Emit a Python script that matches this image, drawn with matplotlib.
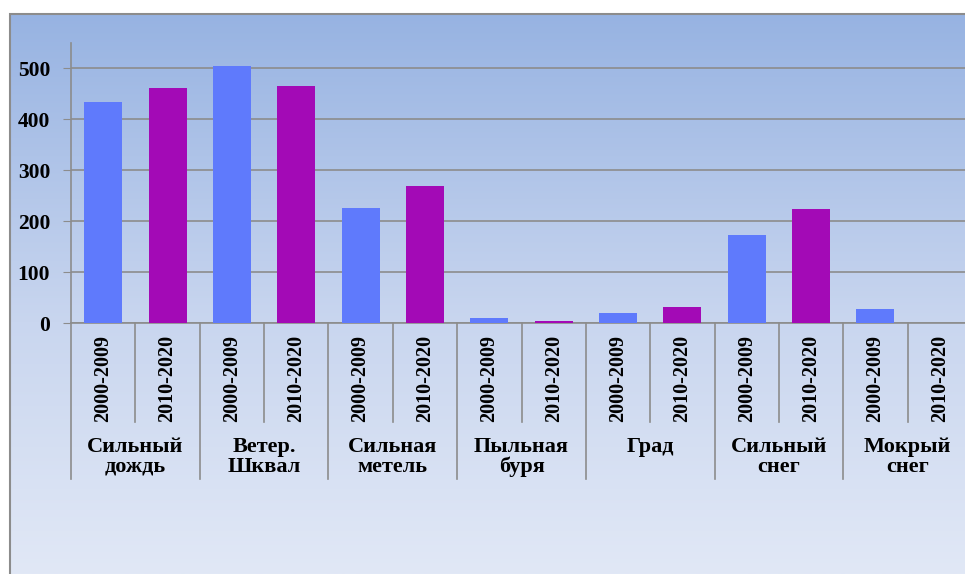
import matplotlib.pyplot as plt
import numpy as np
from matplotlib.colors import LinearSegmentedColormap
from matplotlib.patches import Rectangle

# данные
categories = ["Сильный\nдождь", "Ветер.\nШквал", "Сильная\nметель", "Пыльная\nбуря",
              "Град", "Сильный\nснег", "Мокрый\nснег"]
periods = ["2000-2009", "2010-2020"]
values_2000 = [435, 505, 227, 10, 20, 174, 28]
values_2010 = [462, 465, 269, 4, 32, 225, 0]
yticks = [0, 100, 200, 300, 400, 500]

plt.rcParams['font.family'] = ['Liberation Serif', 'DejaVu Serif']
plt.rcParams['font.weight'] = 'bold'

W, H = 965, 574
fig = plt.figure(figsize=(W / 100, H / 100), dpi=100)

# фон с градиентом
bg = fig.add_axes([10 / W, 0, 1 - 10 / W, 1 - 14 / H])
cmap = LinearSegmentedColormap.from_list(
    "bg", [(0, "#E1E8F6"), (0.45, "#C9D6EF"), (1, "#97B3E2")])
grad = np.linspace(0, 1, 256).reshape(-1, 1)
bg.imshow(grad, aspect="auto", cmap=cmap, origin="lower", extent=[0, 1, 0, 1])
bg.set_axis_off()
fig.patches.append(Rectangle((10 / W, -0.1), 1.2, 1 - 14 / H + 0.1,
                             transform=fig.transFigure, fill=False,
                             edgecolor="#8C8C8C", linewidth=1.5))

ax = fig.add_axes([71 / W, 250.7 / H, 901 / W, 280.3 / H])
ax.patch.set_alpha(0)

x = np.arange(len(categories) * 2)
xa = x[0::2]
xb = x[1::2]
bw = 0.59
ax.bar(xa, values_2000, width=bw, color="#5F7AFC", zorder=3)
ax.bar(xb, values_2010, width=bw, color="#A30AB6", zorder=3)

ax.set_xlim(-0.5, len(x) - 0.5)
ax.set_ylim(0, 550)
ax.set_yticks(yticks)
ax.set_yticklabels([str(v) for v in yticks], fontsize=15.5, fontweight="bold")
ax.tick_params(axis="y", length=6, color="#8C8C8C", pad=9)
ax.set_xticks([])
ax.yaxis.grid(True, color="#8C8C8C", linewidth=1.2, zorder=0)
for s in ["top", "right"]:
    ax.spines[s].set_visible(False)
for s in ["left", "bottom"]:
    ax.spines[s].set_color("#8C8C8C")
    ax.spines[s].set_linewidth(1.2)

tr = ax.get_xaxis_transform()
for i, xi in enumerate(x):
    ax.text(xi, -0.040, periods[i % 2], rotation=90, ha="center", va="top",
            fontsize=14.5, fontweight="bold", transform=tr)
for k in range(len(x) + 1):
    y_end = -0.557 if k % 2 == 0 else -0.351
    ax.plot([k - 0.5, k - 0.5], [0, y_end], color="#8C8C8C", linewidth=1.2,
            transform=tr, clip_on=False)
for c, name in enumerate(categories):
    ax.text(2 * c + 0.5, -0.405, name, ha="center", va="top", fontsize=16,
            fontweight="bold", linespacing=1.0, transform=tr)

fig.savefig("out.png", dpi=100)
